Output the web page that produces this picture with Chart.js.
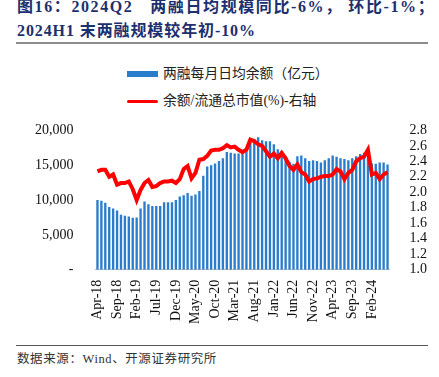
<!DOCTYPE html>
<html>
<head>
<meta charset="utf-8">
<script src="https://cdn.jsdelivr.net/npm/chart.js@4.4.1/dist/chart.umd.min.js"></script>
<style>
body { margin:0; width:439px; height:377px; background:#fff; position:relative; overflow:hidden;
       font-family:"Liberation Serif","Noto Sans CJK SC",serif; }
.title { position:absolute; left:17px; color:#1c2f6e; font-weight:bold; font-size:16px; white-space:pre; line-height:20px; }
#t1 { top:-3px; letter-spacing:1.6px; }
#t2 { top:21px; letter-spacing:0.9px; }
.rule { position:absolute; left:16px; width:412px; }
#legend { position:absolute; left:127px; top:64px; font-size:13.8px; color:#222; }
.item { position:relative; height:27px; white-space:nowrap; }
.swatch { position:absolute; left:0; width:31px; }
.item span { position:absolute; left:36px; top:0; line-height:20px; }
#box { position:absolute; left:0; top:108px; width:439px; height:218px; }
#src { position:absolute; left:17px; top:348px; font-size:12.5px; color:#333; letter-spacing:0.6px; white-space:pre; }
</style>
</head>
<body>
<div class="title" id="t1">图16：2024Q2   两融日均规模同比-6%， 环比-1%；</div>
<div class="title" id="t2">2024H1 末两融规模较年初-10%</div>
<div class="rule" style="top:42px;height:2px;background:#8c8c8c;"></div>
<div id="legend"></div>
<div id="box"><canvas id="chart"></canvas></div>
<div class="rule" style="top:345px;height:1px;background:#555;"></div>
<div id="src">数据来源：Wind、开源证券研究所</div>
<script>
const months = [
  "Apr-18","May-18","Jun-18","Jul-18","Aug-18","Sep-18","Oct-18","Nov-18","Dec-18",
  "Jan-19","Feb-19","Mar-19","Apr-19","May-19","Jun-19","Jul-19","Aug-19","Sep-19","Oct-19","Nov-19","Dec-19",
  "Jan-20","Feb-20","Mar-20","Apr-20","May-20","Jun-20","Jul-20","Aug-20","Sep-20","Oct-20","Nov-20","Dec-20",
  "Jan-21","Feb-21","Mar-21","Apr-21","May-21","Jun-21","Jul-21","Aug-21","Sep-21","Oct-21","Nov-21","Dec-21",
  "Jan-22","Feb-22","Mar-22","Apr-22","May-22","Jun-22","Jul-22","Aug-22","Sep-22","Oct-22","Nov-22","Dec-22",
  "Jan-23","Feb-23","Mar-23","Apr-23","May-23","Jun-23","Jul-23","Aug-23","Sep-23","Oct-23","Nov-23","Dec-23",
  "Jan-24","Feb-24","Mar-24","Apr-24","May-24","Jun-24"
];
// 两融每月日均余额（亿元）
const marginBalance = [
  10000, 9900, 9600, 9000, 8800, 8500, 7900, 7750, 7650,
  7450, 7500, 8800, 9800, 9400, 9150, 9150, 9150, 9700, 9700, 9700, 10000,
  10500, 10700, 11000, 10600, 10800, 11300, 13500, 14800, 15000, 15250, 15600, 16000,
  16900, 16800, 16700, 16700, 16800, 17400, 18200, 18800, 19000, 18600, 18450, 18450,
  18000, 17300, 17000, 16300, 15500, 15200, 16300, 16400, 16000, 15600, 15700, 15600,
  15400, 15700, 16000, 16400, 16200, 16000, 15900, 15700, 16000, 16300, 16600, 16800,
  16900, 15250, 15200, 15400, 15400, 15100
];
// 余额/流通总市值(%)
const ratio = [
  2.27, 2.29, 2.29, 2.20, 2.23, 2.10, 2.12, 2.12, 2.14,
  2.04, 1.90, 2.03, 2.12, 2.16, 2.07, 2.08, 2.12, 2.14, 2.14, 2.15, 2.12,
  2.17, 2.30, 2.34, 2.18, 2.25, 2.42, 2.43, 2.47, 2.54, 2.55, 2.55, 2.57,
  2.61, 2.58, 2.59, 2.55, 2.52, 2.55, 2.68, 2.66, 2.62, 2.60, 2.53, 2.46,
  2.50, 2.44, 2.51, 2.44, 2.34, 2.29, 2.36, 2.26, 2.23, 2.14, 2.17, 2.18,
  2.20, 2.21, 2.21, 2.23, 2.30, 2.27, 2.17, 2.25, 2.29, 2.40, 2.44, 2.46,
  2.55, 2.23, 2.25, 2.17, 2.23, 2.26
];
const barColor = "#2a7dcc";
const lineColor = "#ff0000";
const tickFont = { family: "Liberation Serif", size: 14 };

const data = {
  labels: months,
  datasets: [
    {
      type: "line",
      label: "余额/流通总市值(%)-右轴",
      data: ratio,
      yAxisID: "y1",
      borderColor: lineColor,
      backgroundColor: lineColor,
      borderWidth: 4,
      pointRadius: 0,
      tension: 0,
      order: 0
    },
    {
      type: "bar",
      label: "两融每月日均余额（亿元）",
      data: marginBalance,
      yAxisID: "y",
      backgroundColor: barColor,
      barPercentage: 0.6,
      categoryPercentage: 1,
      order: 1
    }
  ]
};

const config = {
  data: data,
  options: {
    responsive: true,
    maintainAspectRatio: false,
    animation: false,
    layout: { padding: { left: 21, right: 0, top: 0, bottom: 0 } },
    plugins: { legend: { display: false }, tooltip: { enabled: false } },
    scales: {
      x: {
        grid: { display: false },
        border: { display: true, color: "#bfbfbf" },
        ticks: {
          font: tickFont, color: "#111", autoSkip: false, maxRotation: 90, minRotation: 90, padding: 2,
          callback: function(v, i) { return i % 5 === 0 ? months[i] : ""; }
        }
      },
      y: {
        position: "left", min: 0, max: 20000,
        grid: { display: false }, border: { display: false },
        ticks: {
          font: tickFont, color: "#111", stepSize: 5000, padding: 14,
          callback: v => v === 0 ? "-" : v.toLocaleString("en-US")
        }
      },
      y1: {
        position: "right", min: 1.0, max: 2.8,
        grid: { display: false }, border: { display: false },
        ticks: {
          font: tickFont, color: "#111", stepSize: 0.2, padding: 12, autoSkip: false,
          callback: v => v.toFixed(1)
        }
      }
    }
  }
};

const chart = new Chart(document.getElementById("chart").getContext("2d"), config);

// legend, stacked like the source figure
const legend = document.getElementById("legend");
[data.datasets[1], data.datasets[0]].forEach(ds => {
  const item = document.createElement("div");
  item.className = "item";
  const sw = document.createElement("div");
  sw.className = "swatch";
  if (ds.type === "bar") {
    sw.style.top = "7px"; sw.style.height = "6px"; sw.style.background = ds.backgroundColor;
  } else {
    sw.style.top = "8.5px"; sw.style.height = "3.5px"; sw.style.background = ds.borderColor;
    sw.style.borderRadius = "2px";
  }
  const txt = document.createElement("span");
  txt.textContent = ds.label;
  item.appendChild(sw);
  item.appendChild(txt);
  legend.appendChild(item);
});
</script>
</body>
</html>
